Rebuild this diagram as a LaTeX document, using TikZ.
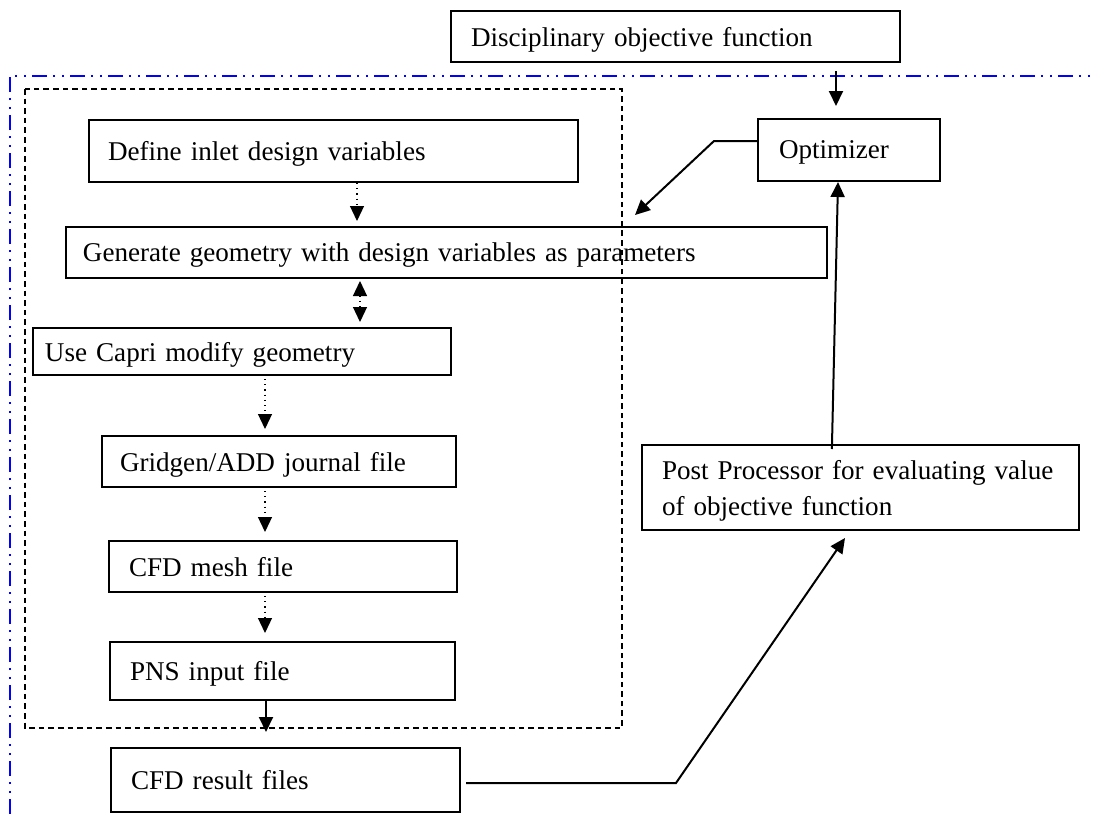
\documentclass[tikz,border=0pt]{standalone}
\usepackage{fontspec}
\setmainfont{Liberation Serif}
\usetikzlibrary{arrows.meta,calc}
\begin{document}
\begin{tikzpicture}[x=0.5pt,y=-0.5pt,
  box/.style={draw, line width=1pt, align=left, font=\fontsize{13.55}{18}\selectfont, inner ysep=0pt, text depth=0pt},
  arr/.style={line width=1pt, -{Triangle[length=7.5pt,width=7pt]}},
  darr/.style={line width=0.6pt, dotted, -{Triangle[length=7.5pt,width=7pt]}},
  ddarr/.style={line width=0.6pt, dotted, {Triangle[length=7.5pt,width=7pt]}-{Triangle[length=7.5pt,width=7pt]}},
  blueframe/.style={blue, line width=1pt, dash pattern=on 7.5pt off 3pt on 1pt off 3.5pt on 1pt off 3pt},
  innerframe/.style={line width=0.75pt, dash pattern=on 2.8pt off 2pt}]
\useasboundingbox (0,0) rectangle (1093,814);
% frames
\draw[blueframe] (10,814) -- (10,76) -- (1093,76);
\draw[innerframe] (25,89) rectangle (622,728);
% boxes
\node[box, minimum width=224.5pt, minimum height=25.5pt, inner xsep=10pt, text width=204.5pt] (disc) at (675.5,36.5) {Disciplinary objective function};
\node[box, minimum width=91pt, minimum height=31pt, inner xsep=10.5pt, text width=70pt] (opt) at (849,150) {Optimizer};
\node[box, minimum width=244.5pt, minimum height=31pt, inner xsep=9.5pt, text width=225.5pt] (define) at (333.5,151) {Define inlet design variables};
\node[box, minimum width=380.5pt, minimum height=25.5pt, inner xsep=8.5pt, text width=363.5pt] (gen) at (446.5,252.5) {Generate geometry with design variables as parameters};
\node[box, minimum width=209pt, minimum height=23.5pt, inner xsep=6pt, text width=197pt] (capri) at (242,351.5) {Use Capri modify geometry};
\node[box, minimum width=177pt, minimum height=25.5pt, inner xsep=9pt, text width=159pt] (grid) at (279,461.5) {Gridgen/ADD journal file};
\node[box, minimum width=174pt, minimum height=25.5pt, inner xsep=10pt, text width=154pt] (mesh) at (283,566.5) {CFD mesh file};
\node[box, minimum width=172.5pt, minimum height=29pt, inner xsep=10pt, text width=152.5pt] (pns) at (282.5,671) {PNS input file};
\node[box, minimum width=174.5pt, minimum height=32pt, inner xsep=10pt, text width=154.5pt] (res) at (285.5,780) {CFD result files};
\node[box, text depth={}, minimum width=218.5pt, minimum height=42.5pt, inner xsep=10pt, text width=198.5pt] (post) at (860.5,487.5) {\rule{0pt}{13pt}Post Processor for evaluating value\\of objective function};
% helper coordinates
\coordinate (c836) at (836,0);
\coordinate (c838) at (838,0);
\coordinate (c832) at (832,0);
\coordinate (c357) at (357,0);
\coordinate (c360) at (360,0);
\coordinate (c265) at (265,0);
\coordinate (c266) at (266,0);
\coordinate (obend) at (714,141);
\coordinate (gin) at (635,215);
\coordinate (rbend) at (676,783);
\coordinate (pin) at (845,538);
% connectors
\draw[arr, shorten <=4pt, shorten >=6pt] (disc.south -| c836) -- (opt.north -| c836);
\draw[arr] ([yshift=4.5pt]opt.west) -- (obend) -- (gin);
\draw[arr, shorten <=-2.5pt] (post.north -| c832) -- (opt.south -| c838);
\draw[arr] ([xshift=2.5pt,yshift=-1.5pt]res.east) -- (rbend) -- (pin);
\draw[darr, shorten >=2.5pt] (define.south -| c357) -- (gen.north -| c357);
\draw[ddarr, shorten <=1pt, shorten >=2.5pt] (gen.south -| c360) -- (capri.north -| c360);
\draw[darr, shorten <=1.5pt, shorten >=3pt] (capri.south -| c265) -- (grid.north -| c265);
\draw[darr, shorten <=1.5pt, shorten >=4pt] (grid.south -| c265) -- (mesh.north -| c265);
\draw[darr, shorten <=1.5pt, shorten >=4pt] (mesh.south -| c265) -- (pns.north -| c265);
\draw[arr, shorten >=7.5pt] (pns.south -| c266) -- (res.north -| c266);
\end{tikzpicture}
\end{document}
